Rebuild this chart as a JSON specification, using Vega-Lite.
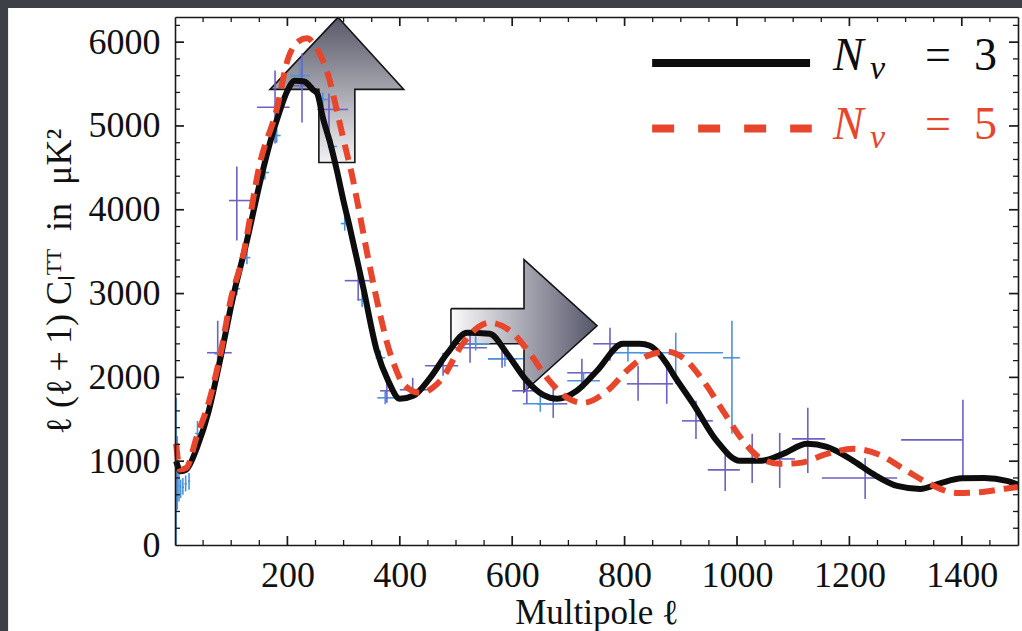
{
  "$schema": "https://vega.github.io/schema/vega-lite/v6.json",
  "width": 843,
  "height": 528,
  "autosize": "none",
  "padding": {"left": 175, "top": 17, "right": 4, "bottom": 86},
  "background": "#3d4047",
  "config": {"view": {"stroke": null}, "font": "Liberation Serif"},
  "datasets": {
    "curves": [
      {"model": "3", "l": 2, "v": 1000}, {"model": "3", "l": 10, "v": 880}, {"model": "3", "l": 20, "v": 900},
      {"model": "3", "l": 40, "v": 1180}, {"model": "3", "l": 60, "v": 1600}, {"model": "3", "l": 80, "v": 2200},
      {"model": "3", "l": 103, "v": 2950}, {"model": "3", "l": 128, "v": 3630}, {"model": "3", "l": 151, "v": 4320},
      {"model": "3", "l": 169, "v": 4800}, {"model": "3", "l": 187, "v": 5190}, {"model": "3", "l": 200, "v": 5420},
      {"model": "3", "l": 213, "v": 5540}, {"model": "3", "l": 230, "v": 5530}, {"model": "3", "l": 246, "v": 5430},
      {"model": "3", "l": 253, "v": 5390}, {"model": "3", "l": 263, "v": 5100}, {"model": "3", "l": 276, "v": 4800},
      {"model": "3", "l": 288, "v": 4470}, {"model": "3", "l": 300, "v": 4100}, {"model": "3", "l": 311, "v": 3790},
      {"model": "3", "l": 335, "v": 3070}, {"model": "3", "l": 359, "v": 2320}, {"model": "3", "l": 380, "v": 1950},
      {"model": "3", "l": 400, "v": 1744}, {"model": "3", "l": 424, "v": 1780}, {"model": "3", "l": 454, "v": 1995},
      {"model": "3", "l": 484, "v": 2282}, {"model": "3", "l": 520, "v": 2533}, {"model": "3", "l": 560, "v": 2521},
      {"model": "3", "l": 591, "v": 2282}, {"model": "3", "l": 626, "v": 1959}, {"model": "3", "l": 655, "v": 1790},
      {"model": "3", "l": 680, "v": 1744}, {"model": "3", "l": 715, "v": 1840}, {"model": "3", "l": 751, "v": 2079},
      {"model": "3", "l": 797, "v": 2401}, {"model": "3", "l": 827, "v": 2401}, {"model": "3", "l": 845, "v": 2377},
      {"model": "3", "l": 875, "v": 2162}, {"model": "3", "l": 886, "v": 2043}, {"model": "3", "l": 922, "v": 1685},
      {"model": "3", "l": 964, "v": 1242}, {"model": "3", "l": 1005, "v": 1004}, {"model": "3", "l": 1041, "v": 1004},
      {"model": "3", "l": 1082, "v": 1087}, {"model": "3", "l": 1125, "v": 1207}, {"model": "3", "l": 1160, "v": 1171},
      {"model": "3", "l": 1207, "v": 1004}, {"model": "3", "l": 1242, "v": 848}, {"model": "3", "l": 1285, "v": 705},
      {"model": "3", "l": 1326, "v": 669}, {"model": "3", "l": 1361, "v": 735}, {"model": "3", "l": 1400, "v": 795},
      {"model": "3", "l": 1440, "v": 800}, {"model": "3", "l": 1480, "v": 765}, {"model": "3", "l": 1500, "v": 720},
      {"model": "5", "l": 2, "v": 1210}, {"model": "5", "l": 9, "v": 900}, {"model": "5", "l": 20, "v": 920},
      {"model": "5", "l": 39, "v": 1300}, {"model": "5", "l": 60, "v": 1700}, {"model": "5", "l": 80, "v": 2250},
      {"model": "5", "l": 100, "v": 2950}, {"model": "5", "l": 120, "v": 3420}, {"model": "5", "l": 151, "v": 4550},
      {"model": "5", "l": 181, "v": 5200}, {"model": "5", "l": 201, "v": 5800}, {"model": "5", "l": 220, "v": 6010},
      {"model": "5", "l": 235, "v": 6045}, {"model": "5", "l": 250, "v": 5950}, {"model": "5", "l": 263, "v": 5782},
      {"model": "5", "l": 270, "v": 5663}, {"model": "5", "l": 288, "v": 5185}, {"model": "5", "l": 299, "v": 4862},
      {"model": "5", "l": 317, "v": 4349}, {"model": "5", "l": 324, "v": 4110}, {"model": "5", "l": 347, "v": 3309},
      {"model": "5", "l": 365, "v": 2750}, {"model": "5", "l": 377, "v": 2420}, {"model": "5", "l": 390, "v": 2150},
      {"model": "5", "l": 406, "v": 1923}, {"model": "5", "l": 436, "v": 1816}, {"model": "5", "l": 472, "v": 1959},
      {"model": "5", "l": 512, "v": 2401}, {"model": "5", "l": 540, "v": 2600}, {"model": "5", "l": 560, "v": 2652},
      {"model": "5", "l": 596, "v": 2557}, {"model": "5", "l": 632, "v": 2282}, {"model": "5", "l": 662, "v": 1995},
      {"model": "5", "l": 698, "v": 1756}, {"model": "5", "l": 726, "v": 1696}, {"model": "5", "l": 769, "v": 1840},
      {"model": "5", "l": 804, "v": 2079}, {"model": "5", "l": 833, "v": 2234}, {"model": "5", "l": 875, "v": 2306},
      {"model": "5", "l": 904, "v": 2234}, {"model": "5", "l": 940, "v": 1959}, {"model": "5", "l": 975, "v": 1601},
      {"model": "5", "l": 1011, "v": 1242}, {"model": "5", "l": 1041, "v": 1039}, {"model": "5", "l": 1077, "v": 968},
      {"model": "5", "l": 1112, "v": 980}, {"model": "5", "l": 1160, "v": 1087}, {"model": "5", "l": 1207, "v": 1147},
      {"model": "5", "l": 1254, "v": 1075}, {"model": "5", "l": 1302, "v": 884}, {"model": "5", "l": 1343, "v": 729},
      {"model": "5", "l": 1391, "v": 621}, {"model": "5", "l": 1432, "v": 630}, {"model": "5", "l": 1480, "v": 675},
      {"model": "5", "l": 1500, "v": 690}
    ],
    "bandpowers": [
      {"ds": "A", "l": 76, "v": 2294, "l0": 57, "l1": 101, "v0": 1959, "v1": 2676},
      {"ds": "A", "l": 110, "v": 4110, "l0": 96, "l1": 137, "v0": 3632, "v1": 4516},
      {"ds": "A", "l": 178, "v": 5224, "l0": 146, "l1": 204, "v0": 4791, "v1": 5663},
      {"ds": "A", "l": 226, "v": 5480, "l0": 205, "l1": 247, "v0": 5042, "v1": 5866},
      {"ds": "A", "l": 274, "v": 5197, "l0": 253, "l1": 308, "v0": 4743, "v1": 5388},
      {"ds": "A", "l": 326, "v": 3154, "l0": 302, "l1": 351, "v0": 2915, "v1": 3393},
      {"ds": "A", "l": 377, "v": 1840, "l0": 365, "l1": 390, "v0": 1696, "v1": 1959},
      {"ds": "A", "l": 423, "v": 1852, "l0": 400, "l1": 454, "v0": 1756, "v1": 1995},
      {"ds": "A", "l": 477, "v": 2139, "l0": 445, "l1": 504, "v0": 2019, "v1": 2294},
      {"ds": "A", "l": 525, "v": 2354, "l0": 489, "l1": 555, "v0": 2174, "v1": 2521},
      {"ds": "A", "l": 582, "v": 2222, "l0": 557, "l1": 609, "v0": 2115, "v1": 2401},
      {"ds": "A", "l": 626, "v": 1840, "l0": 600, "l1": 644, "v0": 1685, "v1": 1959},
      {"ds": "A", "l": 673, "v": 1685, "l0": 644, "l1": 698, "v0": 1517, "v1": 1876},
      {"ds": "A", "l": 724, "v": 2055, "l0": 698, "l1": 751, "v0": 1864, "v1": 2222},
      {"ds": "A", "l": 774, "v": 2401, "l0": 744, "l1": 792, "v0": 2198, "v1": 2593},
      {"ds": "A", "l": 824, "v": 1923, "l0": 804, "l1": 845, "v0": 1720, "v1": 2139},
      {"ds": "A", "l": 875, "v": 1923, "l0": 845, "l1": 886, "v0": 1685, "v1": 2115},
      {"ds": "A", "l": 927, "v": 1481, "l0": 902, "l1": 957, "v0": 1266, "v1": 1720},
      {"ds": "A", "l": 979, "v": 896, "l0": 948, "l1": 1005, "v0": 645, "v1": 1123},
      {"ds": "A", "l": 1027, "v": 1004, "l0": 1005, "l1": 1046, "v0": 741, "v1": 1326},
      {"ds": "A", "l": 1076, "v": 1027, "l0": 1053, "l1": 1103, "v0": 681, "v1": 1338},
      {"ds": "A", "l": 1126, "v": 1266, "l0": 1098, "l1": 1157, "v0": 860, "v1": 1637},
      {"ds": "A", "l": 1228, "v": 800, "l0": 1151, "l1": 1285, "v0": 550, "v1": 1039},
      {"ds": "A", "l": 1402, "v": 1254, "l0": 1292, "l1": 1402, "v0": 765, "v1": 1732},
      {"ds": "B", "l": 2, "v": 950, "l0": 2, "l1": 2, "v0": 0, "v1": 1756},
      {"ds": "B", "l": 4, "v": 820, "l0": 3, "l1": 5, "v0": 420, "v1": 1300},
      {"ds": "B", "l": 7, "v": 700, "l0": 6, "l1": 8, "v0": 520, "v1": 950},
      {"ds": "B", "l": 10, "v": 640, "l0": 9, "l1": 11, "v0": 560, "v1": 780},
      {"ds": "B", "l": 14, "v": 690, "l0": 12, "l1": 16, "v0": 600, "v1": 800},
      {"ds": "B", "l": 19, "v": 730, "l0": 17, "l1": 21, "v0": 640, "v1": 830},
      {"ds": "B", "l": 25, "v": 760, "l0": 23, "l1": 27, "v0": 660, "v1": 860},
      {"ds": "B", "l": 40, "v": 1330, "l0": 36, "l1": 44, "v0": 1220, "v1": 1480},
      {"ds": "B", "l": 76, "v": 2282, "l0": 70, "l1": 83, "v0": 2200, "v1": 2370},
      {"ds": "B", "l": 110, "v": 3058, "l0": 104, "l1": 116, "v0": 2980, "v1": 3140},
      {"ds": "B", "l": 128, "v": 3429, "l0": 122, "l1": 134, "v0": 3350, "v1": 3510},
      {"ds": "B", "l": 160, "v": 4444, "l0": 154, "l1": 167, "v0": 4360, "v1": 4530},
      {"ds": "B", "l": 181, "v": 4886, "l0": 175, "l1": 188, "v0": 4800, "v1": 4970},
      {"ds": "B", "l": 222, "v": 5600, "l0": 205, "l1": 240, "v0": 5450, "v1": 5780},
      {"ds": "B", "l": 263, "v": 5316, "l0": 255, "l1": 272, "v0": 5230, "v1": 5400},
      {"ds": "B", "l": 279, "v": 4755, "l0": 272, "l1": 288, "v0": 4670, "v1": 4840},
      {"ds": "B", "l": 302, "v": 3835, "l0": 295, "l1": 310, "v0": 3750, "v1": 3920},
      {"ds": "B", "l": 333, "v": 2927, "l0": 325, "l1": 342, "v0": 2840, "v1": 3010},
      {"ds": "B", "l": 365, "v": 2234, "l0": 357, "l1": 374, "v0": 2150, "v1": 2320},
      {"ds": "B", "l": 374, "v": 1756, "l0": 360, "l1": 390, "v0": 1680, "v1": 1840},
      {"ds": "B", "l": 535, "v": 2401, "l0": 511, "l1": 560, "v0": 2320, "v1": 2490},
      {"ds": "B", "l": 587, "v": 2222, "l0": 557, "l1": 619, "v0": 2130, "v1": 2310},
      {"ds": "B", "l": 650, "v": 1685, "l0": 619, "l1": 680, "v0": 1590, "v1": 1780},
      {"ds": "B", "l": 727, "v": 1959, "l0": 698, "l1": 756, "v0": 1860, "v1": 2060},
      {"ds": "B", "l": 806, "v": 2294, "l0": 779, "l1": 833, "v0": 2190, "v1": 2400},
      {"ds": "B", "l": 891, "v": 2294, "l0": 827, "l1": 975, "v0": 1923, "v1": 2533},
      {"ds": "B", "l": 991, "v": 2234, "l0": 975, "l1": 1005, "v0": 1326, "v1": 2676}
    ],
    "arrows": [
      {"arrow": "up", "k": 0, "l": 290, "v": 6296}, {"arrow": "up", "k": 1, "l": 407, "v": 5436},
      {"arrow": "up", "k": 2, "l": 320, "v": 5436}, {"arrow": "up", "k": 3, "l": 320, "v": 4564},
      {"arrow": "up", "k": 4, "l": 256, "v": 4564}, {"arrow": "up", "k": 5, "l": 256, "v": 5436},
      {"arrow": "up", "k": 6, "l": 169, "v": 5436}, {"arrow": "up", "k": 7, "l": 290, "v": 6296},
      {"arrow": "right", "k": 0, "l": 491, "v": 2820}, {"arrow": "right", "k": 1, "l": 621, "v": 2820},
      {"arrow": "right", "k": 2, "l": 621, "v": 3405}, {"arrow": "right", "k": 3, "l": 751, "v": 2616},
      {"arrow": "right", "k": 4, "l": 621, "v": 1828}, {"arrow": "right", "k": 5, "l": 621, "v": 2401},
      {"arrow": "right", "k": 6, "l": 491, "v": 2401}, {"arrow": "right", "k": 7, "l": 491, "v": 2820}
    ],
    "ticks": [
      {"axis": "x", "kind": "major", "t": 200}, {"axis": "x", "kind": "major", "t": 400},
      {"axis": "x", "kind": "major", "t": 600}, {"axis": "x", "kind": "major", "t": 800},
      {"axis": "x", "kind": "major", "t": 1000}, {"axis": "x", "kind": "major", "t": 1200},
      {"axis": "x", "kind": "major", "t": 1400},
      {"axis": "x", "kind": "minor", "t": 50}, {"axis": "x", "kind": "minor", "t": 100}, {"axis": "x", "kind": "minor", "t": 150},
      {"axis": "x", "kind": "minor", "t": 250}, {"axis": "x", "kind": "minor", "t": 300}, {"axis": "x", "kind": "minor", "t": 350},
      {"axis": "x", "kind": "minor", "t": 450}, {"axis": "x", "kind": "minor", "t": 500}, {"axis": "x", "kind": "minor", "t": 550},
      {"axis": "x", "kind": "minor", "t": 650}, {"axis": "x", "kind": "minor", "t": 700}, {"axis": "x", "kind": "minor", "t": 750},
      {"axis": "x", "kind": "minor", "t": 850}, {"axis": "x", "kind": "minor", "t": 900}, {"axis": "x", "kind": "minor", "t": 950},
      {"axis": "x", "kind": "minor", "t": 1050}, {"axis": "x", "kind": "minor", "t": 1100}, {"axis": "x", "kind": "minor", "t": 1150},
      {"axis": "x", "kind": "minor", "t": 1250}, {"axis": "x", "kind": "minor", "t": 1300}, {"axis": "x", "kind": "minor", "t": 1350},
      {"axis": "x", "kind": "minor", "t": 1450},
      {"axis": "y", "kind": "major", "t": 1000}, {"axis": "y", "kind": "major", "t": 2000},
      {"axis": "y", "kind": "major", "t": 3000}, {"axis": "y", "kind": "major", "t": 4000},
      {"axis": "y", "kind": "major", "t": 5000}, {"axis": "y", "kind": "major", "t": 6000},
      {"axis": "y", "kind": "minor", "t": 200}, {"axis": "y", "kind": "minor", "t": 400}, {"axis": "y", "kind": "minor", "t": 600},
      {"axis": "y", "kind": "minor", "t": 800}, {"axis": "y", "kind": "minor", "t": 1200}, {"axis": "y", "kind": "minor", "t": 1400},
      {"axis": "y", "kind": "minor", "t": 1600}, {"axis": "y", "kind": "minor", "t": 1800}, {"axis": "y", "kind": "minor", "t": 2200},
      {"axis": "y", "kind": "minor", "t": 2400}, {"axis": "y", "kind": "minor", "t": 2600}, {"axis": "y", "kind": "minor", "t": 2800},
      {"axis": "y", "kind": "minor", "t": 3200}, {"axis": "y", "kind": "minor", "t": 3400}, {"axis": "y", "kind": "minor", "t": 3600},
      {"axis": "y", "kind": "minor", "t": 3800}, {"axis": "y", "kind": "minor", "t": 4200}, {"axis": "y", "kind": "minor", "t": 4400},
      {"axis": "y", "kind": "minor", "t": 4600}, {"axis": "y", "kind": "minor", "t": 4800}, {"axis": "y", "kind": "minor", "t": 5200},
      {"axis": "y", "kind": "minor", "t": 5400}, {"axis": "y", "kind": "minor", "t": 5600}, {"axis": "y", "kind": "minor", "t": 5800},
      {"axis": "y", "kind": "minor", "t": 6200}
    ],
    "key": [
      {"model": "3", "l0": 849, "l1": 1130, "vline": 5750, "lt": 1171, "vt": 5663, "eq": "=\u20023"},
      {"model": "5", "l0": 849, "l1": 1133, "vline": 4970, "lt": 1171, "vt": 4850, "eq": "=\u20025"}
    ]
  },
  "resolve": {"axis": {"x": "independent", "y": "independent"}},
  "layer": [
    {
      "description": "white card behind the plot",
      "data": {"values": [{}]},
      "mark": {"type": "rect", "fill": "white"},
      "encoding": {
        "x": {"datum": -297, "type": "quantitative", "scale": {"domain": [0, 1500], "nice": false}, "axis": null},
        "x2": {"datum": 2200},
        "y": {"datum": 6407, "type": "quantitative", "scale": {"domain": [0, 6300], "nice": false}, "axis": null},
        "y2": {"datum": -2500}
      }
    },
    {
      "description": "up arrow; carries the labelled bottom and left axes",
      "data": {"name": "arrows"},
      "transform": [{"filter": "datum.arrow === 'up'"}],
      "mark": {
        "type": "line", "stroke": "#151515", "strokeWidth": 1.6, "strokeJoin": "miter",
        "fill": {"gradient": "linear", "x1": 0, "y1": 0, "x2": 0, "y2": 1,
                 "stops": [{"offset": 0, "color": "#585869"}, {"offset": 1, "color": "#f2f2f4"}]}
      },
      "encoding": {
        "x": {"field": "l", "type": "quantitative", "scale": {"domain": [0, 1500], "nice": false},
              "axis": {"orient": "bottom", "values": [200, 400, 600, 800, 1000, 1200, 1400], "format": "d",
                       "ticks": false, "domain": true, "domainColor": "#1a1a1a", "domainWidth": 1.6,
                       "labelFont": "Liberation Serif", "labelFontSize": 36, "labelColor": "#111111",
                       "labelPadding": 13, "labelFlush": false, "grid": false, "zindex": 1,
                       "title": "Multipole ℓ", "titleFont": "Liberation Serif", "titleFontSize": 35,
                       "titleFontWeight": "normal", "titleColor": "#111111", "titlePadding": 2}},
        "y": {"field": "v", "type": "quantitative", "scale": {"domain": [0, 6300], "nice": false},
              "axis": {"orient": "left", "values": [0, 1000, 2000, 3000, 4000, 5000, 6000], "format": "d",
                       "ticks": false, "domain": true, "domainColor": "#1a1a1a", "domainWidth": 1.6,
                       "labelFont": "Liberation Serif", "labelFontSize": 36, "labelColor": "#111111",
                       "labelPadding": 15, "labelFlush": false, "grid": false, "zindex": 1,
                       "title": "ℓ (ℓ\u2009+\u20091) Cₗᵀᵀ\u2002in\u2002μK²", "titleFont": "Liberation Serif", "titleFontSize": 36,
                       "titleFontWeight": "normal", "titleColor": "#111111", "titlePadding": 10}},
        "order": {"field": "k", "type": "quantitative"}
      }
    },
    {
      "description": "right arrow",
      "data": {"name": "arrows"},
      "transform": [{"filter": "datum.arrow === 'right'"}],
      "mark": {
        "type": "line", "stroke": "#151515", "strokeWidth": 1.6, "strokeJoin": "miter",
        "fill": {"gradient": "linear", "x1": 0, "y1": 0, "x2": 1, "y2": 0,
                 "stops": [{"offset": 0, "color": "#fbfbfc"}, {"offset": 1, "color": "#55556a"}]}
      },
      "encoding": {
        "x": {"field": "l", "type": "quantitative", "scale": {"domain": [0, 1500], "nice": false}, "axis": null},
        "y": {"field": "v", "type": "quantitative", "scale": {"domain": [0, 6300], "nice": false}, "axis": null},
        "order": {"field": "k", "type": "quantitative"}
      }
    },
    {
      "description": "horizontal bin bars",
      "data": {"name": "bandpowers"},
      "mark": {"type": "rule", "strokeWidth": 1.6},
      "encoding": {
        "x": {"field": "l0", "type": "quantitative", "scale": {"domain": [0, 1500], "nice": false}, "axis": null},
        "x2": {"field": "l1"},
        "y": {"field": "v", "type": "quantitative", "scale": {"domain": [0, 6300], "nice": false}, "axis": null},
        "color": {"field": "ds", "type": "nominal", "legend": null,
                  "scale": {"domain": ["A", "B", "3", "5"], "range": ["#6d61c5", "#4c92dc", "#0d0d0d", "#e8462c"]}}
      }
    },
    {
      "description": "vertical error bars; carry the top and right frame lines",
      "data": {"name": "bandpowers"},
      "mark": {"type": "rule", "strokeWidth": 1.6},
      "encoding": {
        "x": {"field": "l", "type": "quantitative", "scale": {"domain": [0, 1500], "nice": false},
              "axis": {"orient": "bottom", "offset": -528, "labels": false, "ticks": false,
                       "domain": true, "domainColor": "#1a1a1a", "domainWidth": 1.6,
                       "grid": false, "title": null, "zindex": 1}},
        "y": {"field": "v0", "type": "quantitative", "scale": {"domain": [0, 6300], "nice": false},
              "axis": {"orient": "left", "offset": -843, "labels": false, "ticks": false,
                       "domain": true, "domainColor": "#1a1a1a", "domainWidth": 1.6,
                       "grid": false, "title": null, "zindex": 1}},
        "y2": {"field": "v1"},
        "color": {"field": "ds", "type": "nominal", "legend": null,
                  "scale": {"domain": ["A", "B", "3", "5"], "range": ["#6d61c5", "#4c92dc", "#0d0d0d", "#e8462c"]}}
      }
    },
    {
      "description": "N_nu = 3 spectrum",
      "data": {"name": "curves"},
      "transform": [{"filter": "datum.model === '3'"}],
      "mark": {"type": "line", "color": "#0d0d0d", "strokeWidth": 6, "interpolate": "monotone", "strokeJoin": "round"},
      "encoding": {
        "x": {"field": "l", "type": "quantitative", "scale": {"domain": [0, 1500], "nice": false}, "axis": null},
        "y": {"field": "v", "type": "quantitative", "scale": {"domain": [0, 6300], "nice": false}, "axis": null}
      }
    },
    {
      "description": "N_nu = 5 spectrum",
      "data": {"name": "curves"},
      "transform": [{"filter": "datum.model === '5'"}],
      "mark": {"type": "line", "color": "#e8462c", "strokeWidth": 6, "strokeDash": [16, 9], "interpolate": "monotone"},
      "encoding": {
        "x": {"field": "l", "type": "quantitative", "scale": {"domain": [0, 1500], "nice": false}, "axis": null},
        "y": {"field": "v", "type": "quantitative", "scale": {"domain": [0, 6300], "nice": false}, "axis": null}
      }
    },
    {
      "description": "inward major ticks, bottom edge",
      "data": {"name": "ticks"},
      "transform": [{"filter": "datum.axis === 'x' && datum.kind === 'major'"}],
      "mark": {"type": "rule", "color": "#1a1a1a", "strokeWidth": 1.7, "y2Offset": -9},
      "encoding": {
        "x": {"field": "t", "type": "quantitative", "scale": {"domain": [0, 1500], "nice": false}, "axis": null},
        "y": {"datum": 0, "type": "quantitative", "scale": {"domain": [0, 6300], "nice": false}, "axis": null},
        "y2": {"datum": 0}
      }
    },
    {
      "description": "inward minor ticks, bottom edge",
      "data": {"name": "ticks"},
      "transform": [{"filter": "datum.axis === 'x' && datum.kind === 'minor'"}],
      "mark": {"type": "rule", "color": "#1a1a1a", "strokeWidth": 1.3, "y2Offset": -5},
      "encoding": {
        "x": {"field": "t", "type": "quantitative", "scale": {"domain": [0, 1500], "nice": false}, "axis": null},
        "y": {"datum": 0, "type": "quantitative", "scale": {"domain": [0, 6300], "nice": false}, "axis": null},
        "y2": {"datum": 0}
      }
    },
    {
      "description": "inward major ticks, top edge",
      "data": {"name": "ticks"},
      "transform": [{"filter": "datum.axis === 'x' && datum.kind === 'major'"}],
      "mark": {"type": "rule", "color": "#1a1a1a", "strokeWidth": 1.7, "y2Offset": 9},
      "encoding": {
        "x": {"field": "t", "type": "quantitative", "scale": {"domain": [0, 1500], "nice": false}, "axis": null},
        "y": {"datum": 6300, "type": "quantitative", "scale": {"domain": [0, 6300], "nice": false}, "axis": null},
        "y2": {"datum": 6300}
      }
    },
    {
      "description": "inward minor ticks, top edge",
      "data": {"name": "ticks"},
      "transform": [{"filter": "datum.axis === 'x' && datum.kind === 'minor'"}],
      "mark": {"type": "rule", "color": "#1a1a1a", "strokeWidth": 1.3, "y2Offset": 5},
      "encoding": {
        "x": {"field": "t", "type": "quantitative", "scale": {"domain": [0, 1500], "nice": false}, "axis": null},
        "y": {"datum": 6300, "type": "quantitative", "scale": {"domain": [0, 6300], "nice": false}, "axis": null},
        "y2": {"datum": 6300}
      }
    },
    {
      "description": "inward major ticks, left edge",
      "data": {"name": "ticks"},
      "transform": [{"filter": "datum.axis === 'y' && datum.kind === 'major'"}],
      "mark": {"type": "rule", "color": "#1a1a1a", "strokeWidth": 1.7, "x2Offset": 9},
      "encoding": {
        "y": {"field": "t", "type": "quantitative", "scale": {"domain": [0, 6300], "nice": false}, "axis": null},
        "x": {"datum": 0, "type": "quantitative", "scale": {"domain": [0, 1500], "nice": false}, "axis": null},
        "x2": {"datum": 0}
      }
    },
    {
      "description": "inward minor ticks, left edge",
      "data": {"name": "ticks"},
      "transform": [{"filter": "datum.axis === 'y' && datum.kind === 'minor'"}],
      "mark": {"type": "rule", "color": "#1a1a1a", "strokeWidth": 1.3, "x2Offset": 5},
      "encoding": {
        "y": {"field": "t", "type": "quantitative", "scale": {"domain": [0, 6300], "nice": false}, "axis": null},
        "x": {"datum": 0, "type": "quantitative", "scale": {"domain": [0, 1500], "nice": false}, "axis": null},
        "x2": {"datum": 0}
      }
    },
    {
      "description": "inward major ticks, right edge",
      "data": {"name": "ticks"},
      "transform": [{"filter": "datum.axis === 'y' && datum.kind === 'major'"}],
      "mark": {"type": "rule", "color": "#1a1a1a", "strokeWidth": 1.7, "x2Offset": -9},
      "encoding": {
        "y": {"field": "t", "type": "quantitative", "scale": {"domain": [0, 6300], "nice": false}, "axis": null},
        "x": {"datum": 1500, "type": "quantitative", "scale": {"domain": [0, 1500], "nice": false}, "axis": null},
        "x2": {"datum": 1500}
      }
    },
    {
      "description": "inward minor ticks, right edge",
      "data": {"name": "ticks"},
      "transform": [{"filter": "datum.axis === 'y' && datum.kind === 'minor'"}],
      "mark": {"type": "rule", "color": "#1a1a1a", "strokeWidth": 1.3, "x2Offset": -5},
      "encoding": {
        "y": {"field": "t", "type": "quantitative", "scale": {"domain": [0, 6300], "nice": false}, "axis": null},
        "x": {"datum": 1500, "type": "quantitative", "scale": {"domain": [0, 1500], "nice": false}, "axis": null},
        "x2": {"datum": 1500}
      }
    },
    {
      "data": {"name": "key"},
      "transform": [{"filter": "datum.model === '3'"}],
      "mark": {"type": "rule", "color": "#0d0d0d", "strokeWidth": 8},
      "encoding": {
        "x": {"field": "l0", "type": "quantitative", "scale": {"domain": [0, 1500], "nice": false}, "axis": null},
        "x2": {"field": "l1"},
        "y": {"field": "vline", "type": "quantitative", "scale": {"domain": [0, 6300], "nice": false}, "axis": null}
      }
    },
    {
      "data": {"name": "key"},
      "transform": [{"filter": "datum.model === '5'"}],
      "mark": {"type": "rule", "color": "#e8462c", "strokeWidth": 8, "strokeDash": [22, 24]},
      "encoding": {
        "x": {"field": "l0", "type": "quantitative", "scale": {"domain": [0, 1500], "nice": false}, "axis": null},
        "x2": {"field": "l1"},
        "y": {"field": "vline", "type": "quantitative", "scale": {"domain": [0, 6300], "nice": false}, "axis": null}
      }
    },
    {
      "data": {"name": "key"},
      "mark": {"type": "text", "text": "N", "font": "Liberation Serif", "fontStyle": "italic", "fontSize": 46,
               "align": "left", "baseline": "alphabetic"},
      "encoding": {
        "x": {"field": "lt", "type": "quantitative", "scale": {"domain": [0, 1500], "nice": false}, "axis": null},
        "y": {"field": "vt", "type": "quantitative", "scale": {"domain": [0, 6300], "nice": false}, "axis": null},
        "color": {"field": "model", "type": "nominal", "legend": null,
                  "scale": {"domain": ["A", "B", "3", "5"], "range": ["#6d61c5", "#4c92dc", "#0d0d0d", "#e8462c"]}}
      }
    },
    {
      "data": {"name": "key"},
      "mark": {"type": "text", "text": "ν", "font": "Liberation Serif", "fontStyle": "italic", "fontSize": 34,
               "align": "left", "baseline": "alphabetic", "dx": 37, "dy": 9},
      "encoding": {
        "x": {"field": "lt", "type": "quantitative", "scale": {"domain": [0, 1500], "nice": false}, "axis": null},
        "y": {"field": "vt", "type": "quantitative", "scale": {"domain": [0, 6300], "nice": false}, "axis": null},
        "color": {"field": "model", "type": "nominal", "legend": null,
                  "scale": {"domain": ["A", "B", "3", "5"], "range": ["#6d61c5", "#4c92dc", "#0d0d0d", "#e8462c"]}}
      }
    },
    {
      "data": {"name": "key"},
      "mark": {"type": "text", "font": "Liberation Serif", "fontSize": 46,
               "align": "left", "baseline": "alphabetic", "dx": 92},
      "encoding": {
        "x": {"field": "lt", "type": "quantitative", "scale": {"domain": [0, 1500], "nice": false}, "axis": null},
        "y": {"field": "vt", "type": "quantitative", "scale": {"domain": [0, 6300], "nice": false}, "axis": null},
        "text": {"field": "eq"},
        "color": {"field": "model", "type": "nominal", "legend": null,
                  "scale": {"domain": ["A", "B", "3", "5"], "range": ["#6d61c5", "#4c92dc", "#0d0d0d", "#e8462c"]}}
      }
    }
  ]
}
